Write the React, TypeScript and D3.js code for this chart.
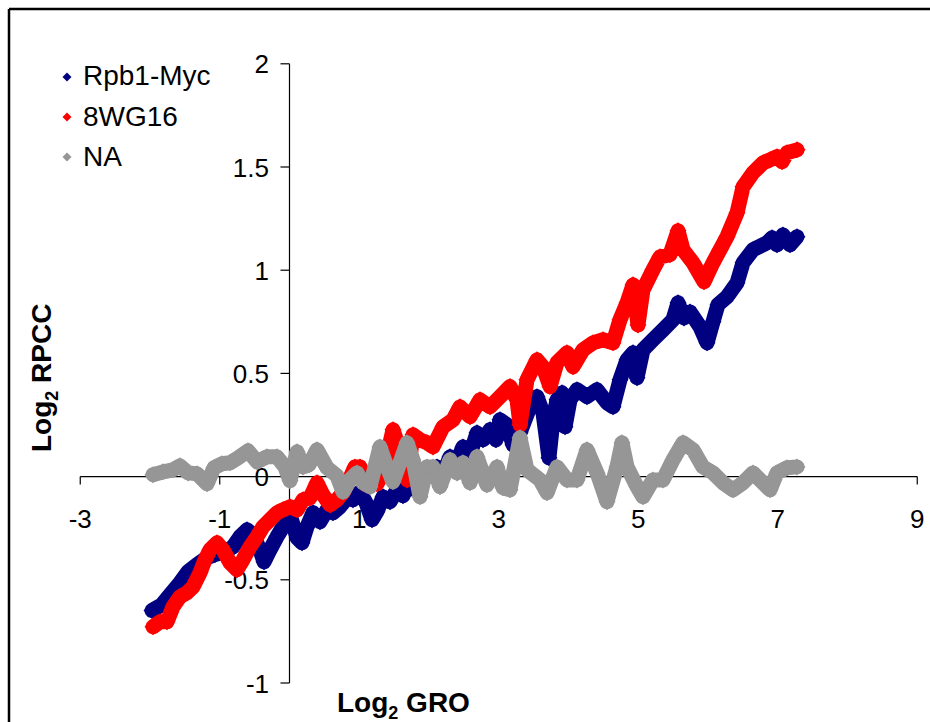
import React from "react";
import * as d3 from "d3";

const seriesNames = ["Rpb1-Myc", "8WG16", "NA"];
const seriesColors = ["#000080", "#FF0000", "#969696"];

const rpb1Data: [number, number][] = [
  [-1.971, -0.649], [-1.828, -0.62], [-1.713, -0.572], [-1.57, -0.514], [-1.455, -0.461],
  [-1.326, -0.427], [-1.183, -0.393], [-1.068, -0.378], [-0.925, -0.364], [-0.81, -0.34],
  [-0.71, -0.291], [-0.609, -0.258], [-0.523, -0.282], [-0.423, -0.355], [-0.366, -0.413],
  [-0.28, -0.355], [-0.179, -0.291], [-0.093, -0.243], [0.007, -0.185], [0.108, -0.296],
  [0.179, -0.321], [0.251, -0.243], [0.337, -0.175], [0.437, -0.219], [0.538, -0.161],
  [0.624, -0.175], [0.724, -0.146], [0.824, -0.103], [0.91, -0.112], [1.011, -0.074],
  [1.097, -0.127], [1.183, -0.209], [1.254, -0.17], [1.341, -0.098], [1.441, -0.122],
  [1.541, -0.064], [1.627, -0.093], [1.728, -0.006], [1.799, -0.064], [1.914, -0.016],
  [2.014, 0.023], [2.115, 0.047], [2.201, 0.009], [2.301, 0.096], [2.401, 0.072],
  [2.487, 0.144], [2.588, 0.106], [2.688, 0.212], [2.774, 0.178], [2.875, 0.227],
  [2.961, 0.178], [3.018, 0.275], [3.118, 0.251], [3.204, 0.154], [3.305, 0.212],
  [3.448, 0.338], [3.548, 0.387], [3.634, 0.309], [3.72, 0.091], [3.778, 0.275],
  [3.835, 0.372], [3.907, 0.406], [3.95, 0.241], [4.022, 0.372], [4.122, 0.421],
  [4.265, 0.387], [4.409, 0.421], [4.552, 0.358], [4.638, 0.338], [4.738, 0.469],
  [4.839, 0.566], [4.925, 0.6], [4.982, 0.479], [5.068, 0.614], [5.211, 0.663],
  [5.355, 0.711], [5.498, 0.76], [5.57, 0.842], [5.656, 0.769], [5.742, 0.798],
  [5.885, 0.726], [5.986, 0.648], [6.072, 0.75], [6.143, 0.833], [6.272, 0.871],
  [6.416, 0.939], [6.502, 1.036], [6.645, 1.099], [6.846, 1.133], [6.918, 1.157],
  [6.989, 1.123], [7.075, 1.171], [7.176, 1.123], [7.276, 1.162],
];

const wg16Data: [number, number][] = [
  [-1.957, -0.728], [-1.857, -0.703], [-1.756, -0.703], [-1.67, -0.631], [-1.57, -0.582],
  [-1.47, -0.563], [-1.384, -0.534], [-1.283, -0.466], [-1.211, -0.403], [-1.14, -0.355],
  [-1.039, -0.321], [-0.953, -0.355], [-0.853, -0.417], [-0.753, -0.451], [-0.667, -0.403],
  [-0.566, -0.34], [-0.466, -0.291], [-0.38, -0.243], [-0.28, -0.209], [-0.179, -0.175],
  [-0.093, -0.161], [0.007, -0.146], [0.108, -0.161], [0.194, -0.112], [0.294, -0.103],
  [0.394, -0.03], [0.48, -0.088], [0.581, -0.137], [0.681, -0.112], [0.767, -0.078],
  [0.867, -0.006], [0.939, 0.047], [1.011, 0.047], [1.097, -0.04], [1.183, -0.016],
  [1.254, -0.035], [1.341, 0.018], [1.412, 0.12], [1.484, 0.227], [1.556, 0.154],
  [1.613, 0.081], [1.685, -0.016], [1.771, 0.203], [1.871, 0.178], [1.971, 0.164],
  [2.057, 0.144], [2.201, 0.241], [2.344, 0.275], [2.444, 0.338], [2.588, 0.29],
  [2.731, 0.372], [2.875, 0.338], [3.018, 0.387], [3.161, 0.436], [3.262, 0.372],
  [3.305, 0.251], [3.405, 0.469], [3.548, 0.566], [3.634, 0.532], [3.735, 0.436],
  [3.835, 0.552], [3.978, 0.6], [4.065, 0.532], [4.208, 0.614], [4.351, 0.648],
  [4.495, 0.663], [4.638, 0.648], [4.738, 0.76], [4.839, 0.842], [4.925, 0.929],
  [4.996, 0.735], [5.068, 0.905], [5.211, 1.002], [5.312, 1.065], [5.455, 1.075],
  [5.57, 1.191], [5.642, 1.099], [5.785, 1.036], [5.943, 0.944], [6.057, 1.026],
  [6.172, 1.099], [6.272, 1.162], [6.416, 1.278], [6.502, 1.404], [6.645, 1.472],
  [6.789, 1.52], [6.889, 1.535], [6.989, 1.55], [7.061, 1.525], [7.133, 1.569],
  [7.276, 1.583],
];

const naData: [number, number][] = [
  [-1.957, 0.009], [-1.814, 0.023], [-1.67, 0.033], [-1.57, 0.052], [-1.455, 0.018],
  [-1.326, 0.014], [-1.183, -0.035], [-1.082, 0.043], [-0.968, 0.062], [-0.853, 0.067],
  [-0.738, 0.091], [-0.595, 0.125], [-0.466, 0.072], [-0.323, 0.096], [-0.179, 0.096],
  [-0.065, 0.047], [0.007, -0.02], [0.108, 0.12], [0.194, 0.047], [0.28, 0.057],
  [0.394, 0.13], [0.538, 0.043], [0.681, 0.004], [0.767, -0.074], [0.867, -0.016],
  [0.968, 0.018], [1.054, -0.03], [1.154, -0.049], [1.297, 0.144], [1.398, 0.047],
  [1.484, -0.025], [1.584, 0.067], [1.685, 0.164], [1.771, 0.081], [1.871, -0.098],
  [1.971, 0.047], [2.057, 0.047], [2.158, -0.049], [2.301, 0.081], [2.401, 0.018],
  [2.487, 0.067], [2.588, -0.03], [2.688, 0.096], [2.832, -0.04], [2.975, 0.047],
  [3.061, -0.054], [3.161, -0.064], [3.305, 0.188], [3.405, 0.033], [3.591, -0.016],
  [3.692, -0.078], [3.835, 0.047], [3.978, -0.016], [4.122, -0.016], [4.265, 0.13],
  [4.409, 0.018], [4.552, -0.122], [4.695, 0.047], [4.767, 0.164], [4.839, 0.047],
  [4.982, -0.049], [5.068, -0.098], [5.211, -0.016], [5.355, -0.016], [5.498, 0.081],
  [5.642, 0.164], [5.785, 0.13], [5.928, 0.047], [6.072, 0.018], [6.215, -0.03],
  [6.358, -0.064], [6.502, -0.03], [6.645, 0.018], [6.789, -0.03], [6.889, -0.064],
  [6.989, 0.018], [7.133, 0.043], [7.276, 0.047],
];

const allSeries = [rpb1Data, wg16Data, naData];
const xTicks = [-3, -1, 1, 3, 5, 7, 9];
const yTicks = [-1, -0.5, 0, 0.5, 1, 1.5, 2];

const W = 930;
const H = 722;

const diamond = (r: number) => `M0,${-r}L${r},0L0,${r}L${-r},0Z`;

export default function App() {
  const x = d3.scaleLinear().domain([-3, 9]).range([80.25, 917.25]);
  const y = d3.scaleLinear().domain([-1, 2]).range([683, 63.8]);
  const line = d3
    .line<[number, number]>()
    .x((d) => x(d[0]))
    .y((d) => y(d[1]));
  const font = "Arial, 'Liberation Sans', sans-serif";
  return (
    <svg
      width={W}
      height={H}
      style={{ position: "absolute", left: 0, top: 0, background: "#fff" }}
      fontFamily={font}
    >
      <rect x={0} y={0} width={W} height={H} fill="#fff" />
      <line x1={9} y1={9} x2={W} y2={9} stroke="#000" strokeWidth={2.5} />
      <line x1={9} y1={9} x2={9} y2={H} stroke="#000" strokeWidth={2.5} />

      {/* axes */}
      <line x1={x(-3)} x2={x(9)} y1={y(0)} y2={y(0)} stroke="#000" strokeWidth={1.2} />
      <line x1={x(0)} x2={x(0)} y1={y(-1)} y2={y(2)} stroke="#000" strokeWidth={1.2} />
      {xTicks.map((t) => (
        <g key={"xt" + t}>
          <line x1={x(t)} x2={x(t)} y1={y(0)} y2={y(0) + 8} stroke="#000" strokeWidth={1.2} />
          <text x={x(t)} y={y(0) + 51} fontSize={26} textAnchor="middle" fill="#000">
            {t}
          </text>
        </g>
      ))}
      {yTicks.map((t) => (
        <g key={"yt" + t}>
          <line x1={x(0) - 9} x2={x(0)} y1={y(t)} y2={y(t)} stroke="#000" strokeWidth={1.2} />
          <text x={269} y={y(t) + 9.5} fontSize={26} textAnchor="end" fill="#000">
            {t}
          </text>
        </g>
      ))}

      {/* series */}
      {allSeries.map((data, i) => (
        <g key={"s" + i}>
          <path
            d={line(data) || ""}
            fill="none"
            stroke={seriesColors[i]}
            strokeWidth={15}
            strokeLinejoin="round"
            strokeLinecap="round"
          />
          {data.map((d, j) => (
            <path
              key={j}
              d={diamond(8.5)}
              transform={`translate(${x(d[0])},${y(d[1])})`}
              fill={seriesColors[i]}
            />
          ))}
        </g>
      ))}

      {/* legend */}
      {seriesNames.map((n, i) => (
        <g key={"lg" + i}>
          <path d={diamond(4.5)} transform={`translate(67,${77 + i * 40})`} fill={seriesColors[i]} />
          <text x={83} y={85 + i * 40.5} fontSize={28} fill="#000">
            {n}
          </text>
        </g>
      ))}

      {/* axis titles */}
      <text x={337} y={712} fontSize={28} fontWeight="bold" fill="#000">
        Log
        <tspan fontSize={18} dy={7}>2</tspan>
        <tspan dy={-7}> GRO</tspan>
      </text>
      <text
        transform="translate(51,452) rotate(-90)"
        fontSize={28}
        fontWeight="bold"
        fill="#000"
      >
        Log
        <tspan fontSize={18} dy={7}>2</tspan>
        <tspan dy={-7}> RPCC</tspan>
      </text>
    </svg>
  );
}
